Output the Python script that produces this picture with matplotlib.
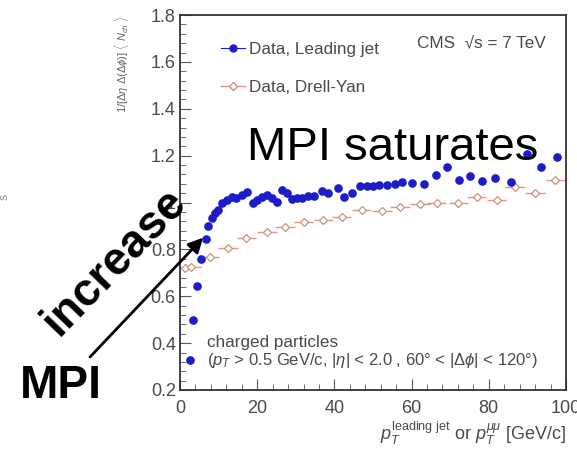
import matplotlib
matplotlib.use("Agg")
import matplotlib.pyplot as plt
from matplotlib.lines import Line2D
from matplotlib.ticker import MultipleLocator, FixedLocator, FixedFormatter

plt.rcParams['font.family'] = ['Liberation Sans', 'DejaVu Sans']
plt.rcParams['mathtext.fontset'] = 'custom'
plt.rcParams['mathtext.rm'] = 'Liberation Sans'
plt.rcParams['mathtext.it'] = 'Liberation Sans:italic'

# ---- data ----
lj_pt = [2.6, 3.4, 4.5, 5.4, 6.7, 7.3, 8.2, 9.1, 9.9, 10.8, 12.1, 13.4, 14.5, 16.0,
         17.3, 18.8, 19.9, 21.2, 22.5, 23.8, 25.0, 26.3, 27.6, 28.9, 30.2, 31.5,
         33.2, 34.7, 36.9, 38.4, 40.9, 42.5, 44.5, 46.6, 48.5, 50.1, 51.6, 53.6,
         55.7, 57.4, 60.2, 63.2, 66.3, 69.3, 72.3, 75.2, 78.2, 81.6, 85.7, 90.0,
         93.5, 97.7]
lj_val = [0.33, 0.50, 0.645, 0.76, 0.843, 0.90, 0.933, 0.955, 0.97, 0.997, 1.011,
          1.025, 1.018, 1.032, 1.046, 0.997, 1.011, 1.025, 1.032, 1.018, 1.004,
          1.053, 1.039, 1.014, 1.02, 1.018, 1.028, 1.028, 1.05, 1.039, 1.061,
          1.025, 1.039, 1.072, 1.072, 1.072, 1.075, 1.075, 1.079, 1.089, 1.085,
          1.079, 1.117, 1.153, 1.096, 1.113, 1.093, 1.103, 1.089, 1.207, 1.153,
          1.195]

dy_pt = [1.3, 2.9, 7.7, 12.4, 17.2, 22.5, 27.2, 32.0, 37.1, 41.9, 47.1, 52.3,
         57.0, 62.2, 66.5, 72.1, 76.9, 82.0, 86.8, 92.0, 97.2]
dy_val = [0.719, 0.726, 0.766, 0.805, 0.847, 0.876, 0.897, 0.918, 0.925, 0.94,
          0.968, 0.965, 0.98, 0.994, 1.0, 0.997, 1.025, 1.011, 1.068, 1.039, 1.096]

x_ticks = [0, 20, 40, 60, 80, 100]
x_ticklabels = ['0', '20', '40', '60', '80', '100']
y_ticks = [0.2, 0.4, 0.6, 0.8, 1.0, 1.2, 1.4, 1.6, 1.8]
y_ticklabels = ['0.2', '0.4', '0.6', '0.8', '1', '1.2', '1.4', '1.6', '1.8']

label_lj = 'Data, Leading jet'
label_dy = 'Data, Drell-Yan'

blue = '#1c1cc8'
pink = '#e8908a'
gray = '#4a4a4a'

fig = plt.figure(figsize=(5.77, 4.5), dpi=100)
ax = fig.add_axes([180/577, 1-390/450, 386/577, 375/450])

ax.errorbar(dy_pt, dy_val, xerr=2.5, fmt='D', ms=4.5, mfc='white', mec='#c89478',
            mew=0.9, ecolor=pink, elinewidth=1.0, capsize=0, zorder=2)
ax.errorbar(lj_pt, lj_val, xerr=0.8, fmt='o', ms=5.2, color=blue, ecolor=blue,
            elinewidth=0.8, capsize=0, zorder=3)

ax.set_xlim(0, 100)
ax.set_ylim(0.2, 1.8)
ax.xaxis.set_major_locator(FixedLocator(x_ticks))
ax.xaxis.set_major_formatter(FixedFormatter(x_ticklabels))
ax.yaxis.set_major_locator(FixedLocator(y_ticks))
ax.yaxis.set_major_formatter(FixedFormatter(y_ticklabels))
ax.xaxis.set_minor_locator(MultipleLocator(4))
ax.yaxis.set_minor_locator(MultipleLocator(0.04))
ax.tick_params(which='both', direction='in', colors='#555555', labelcolor=gray,
               labelsize=13, top=False, right=False)
ax.tick_params(which='major', length=8, width=0.8)
ax.tick_params(which='minor', length=4, width=0.6)
ax.tick_params(axis='x', pad=7)
ax.tick_params(axis='y', pad=3)
for s in ax.spines.values():
    s.set_color('#333333')
    s.set_linewidth(1.3)

ax.set_xlabel(r'$p_T^{\mathrm{leading\ jet}}$ or $p_T^{\mu\mu}$ [GeV/c]',
              loc='right', fontsize=13, color=gray, labelpad=2)
ax.set_ylabel(r'1/[$\Delta\eta\ \Delta(\Delta\phi)$] $\langle$ $N_{ch}$ $\rangle$',
              loc='top', fontsize=8, color='#666666')
ax.yaxis.set_label_coords(-0.127, 1.0)

handles = [
    Line2D([], [], color=blue, marker='o', ms=5, lw=0.8),
    Line2D([], [], color=pink, marker='D', ms=4.5, mfc='white', mec='#c89478', lw=1.0),
]
ax.legend(handles, [label_lj, label_dy], loc='upper left',
          bbox_to_anchor=(0.067, 0.968), frameon=False, fontsize=12.3,
          labelcolor=gray, handlelength=1.4, handletextpad=0.2, labelspacing=1.3)

ax.text(0.614, 0.925, 'CMS  √s = 7 TeV', transform=ax.transAxes, fontsize=12.3,
        color=gray, ha='left', va='center')
ax.text(0.07, 0.128, 'charged particles', transform=ax.transAxes, fontsize=12.3,
        color=gray, ha='left', va='center')
ax.text(0.07, 0.08,
        r'($p_T$ > 0.5 GeV/c, |$\eta$| < 2.0 , 60° < |$\Delta\phi$| < 120°)',
        transform=ax.transAxes, fontsize=12, color=gray, ha='left', va='center')

# big annotations
fig.text(247/577, 1-160/450, 'MPI saturates', fontsize=34, color='black',
         ha='left', va='baseline')
fig.text(20/577, 1-398/450, 'MPI', fontsize=33, fontweight='bold', color='black',
         ha='left', va='baseline')
fig.text(115/577, 1-262/450, 'increase', fontsize=33, fontweight='bold',
         color='black', ha='center', va='center', rotation=46)
fig.text(5/577, 1-197/450, 's', fontsize=9, color='#999999', rotation=90,
         ha='center', va='center')

ax.annotate('', xy=(6.0, 0.85), xycoords='data',
            xytext=(90/577, 1-357/450), textcoords='figure fraction',
            arrowprops=dict(arrowstyle='-|>', lw=2, color='black',
                            mutation_scale=22, shrinkA=0, shrinkB=0),
            annotation_clip=False)

fig.savefig('out.png', dpi=100)
